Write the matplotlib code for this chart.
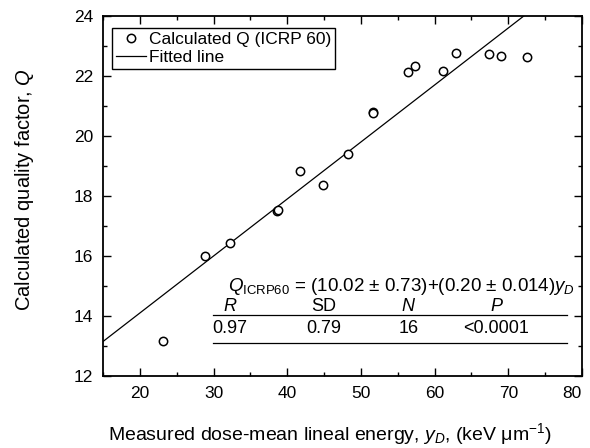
import numpy as np
import matplotlib
matplotlib.use("Agg")
import matplotlib.pyplot as plt
from matplotlib.ticker import MultipleLocator

plt.rcParams['font.family'] = ['Liberation Sans', 'DejaVu Sans']
plt.rcParams['mathtext.fontset'] = 'custom'
plt.rcParams['mathtext.rm'] = 'Liberation Sans'
plt.rcParams['mathtext.it'] = 'Liberation Sans:italic'

# measured y_D (keV/um) and calculated Q (ICRP 60)
y_d = [23.1, 28.9, 32.2, 38.6, 38.7, 41.8, 44.9, 48.2, 51.6, 51.7,
       56.4, 57.3, 61.1, 62.9, 67.4, 69.0, 72.6]
q_calc = [13.17, 15.99, 16.44, 17.50, 17.52, 18.83, 18.38, 19.39, 20.81, 20.78,
          22.14, 22.34, 22.17, 22.76, 22.72, 22.68, 22.62]

# fitted line as drawn
fit_intercept = 10.3
fit_slope = 0.19

stat_names = ["$R$", "SD", "$N$", "$P$"]
stat_values = ["0.97", "0.79", "16", "<0.0001"]

fig = plt.figure(figsize=(5.9, 4.48), dpi=100)
ax = fig.add_axes([0.1746, 0.1607, 0.8118, 0.8036])

xf = np.array([15, 80])
ax.plot(xf, fit_intercept + fit_slope * xf, color='black', lw=0.9, label='Fitted line')
ax.plot(y_d, q_calc, linestyle='none', marker='o', markersize=6,
        markerfacecolor='white', markeredgecolor='black', markeredgewidth=1.1,
        label='Calculated Q (ICRP 60)')

ax.set_xlim(15, 80)
ax.set_ylim(12, 24)
ax.xaxis.set_major_locator(MultipleLocator(10))
ax.xaxis.set_minor_locator(MultipleLocator(5))
ax.yaxis.set_major_locator(MultipleLocator(2))
ax.yaxis.set_minor_locator(MultipleLocator(1))
ax.tick_params(which='both', direction='in', top=True, right=True, labelsize=12.5, width=1)
ax.tick_params(which='major', length=6, pad=7)
ax.tick_params(which='minor', length=3)
for s in ax.spines.values():
    s.set_linewidth(1.3)

ax.set_xlabel("Measured dose-mean lineal energy, $y_D$, (keV μm$^{-1}$)", fontsize=14)
ax.set_ylabel("Calculated quality factor, $Q$", fontsize=14.5)
ax.xaxis.set_label_coords(0.474, -0.125)
ax.yaxis.set_label_coords(-0.14, 0.517)

handles, labels = ax.get_legend_handles_labels()
leg = ax.legend(handles[::-1], labels[::-1], loc='upper left', bbox_to_anchor=(0.019, 0.967),
                borderaxespad=0, fancybox=False, frameon=True, fontsize=12.5,
                handlelength=1.7, handletextpad=0.15, borderpad=0.25, labelspacing=0.12)
leg.get_frame().set_edgecolor('black')
leg.get_frame().set_linewidth(1.0)
leg.get_frame().set_alpha(1)

ax.text(32.0, 15.0, r"$Q_{\mathrm{ICRP60}}$ = (10.02 ± 0.73)+(0.20 ± 0.014)$y_D$",
        fontsize=13.5, va='center', ha='left')
col_x = [32.2, 44.9, 56.5, 68.4]
for cx, name, val in zip(col_x, stat_names, stat_values):
    ax.text(cx, 14.33, name, fontsize=13, va='center', ha='center')
    ax.text(cx, 13.59, val, fontsize=13, va='center', ha='center')
ax.plot([29.9, 78.0], [14.02, 14.02], color='black', lw=0.9)
ax.plot([29.9, 78.0], [13.10, 13.10], color='black', lw=0.9)

# keep the "80" label inside the figure edge
fig.canvas.draw()
for t in ax.xaxis.get_major_ticks():
    if abs(t.get_loc() - 80) < 1e-6:
        t.label1.set_horizontalalignment('right')

fig.savefig("out.png", dpi=100)
